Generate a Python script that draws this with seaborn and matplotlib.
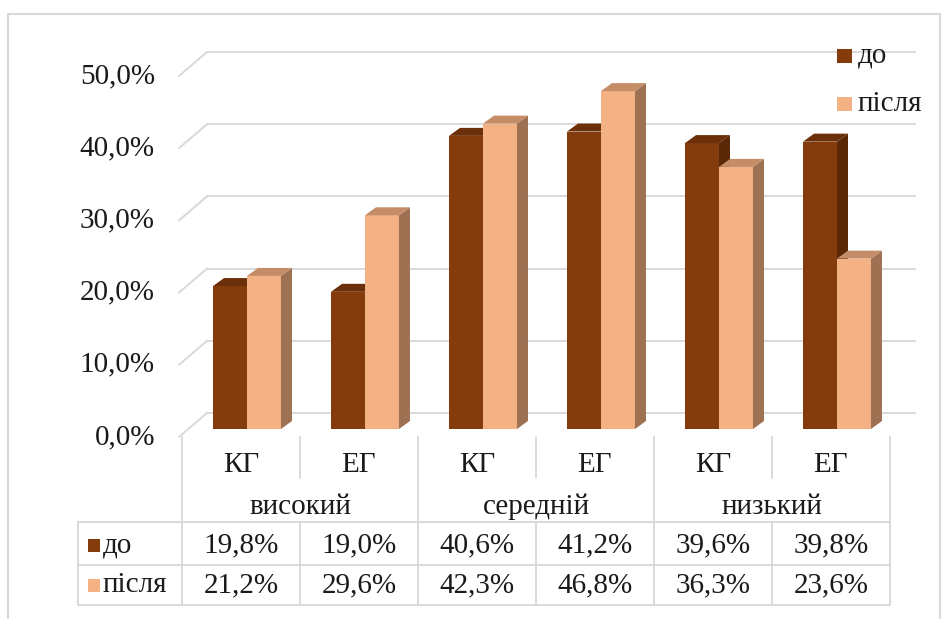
import pandas as pd
import matplotlib
matplotlib.use('Agg')
import matplotlib.pyplot as plt
import matplotlib.transforms as mtransforms
from matplotlib.patches import Polygon, Rectangle
import seaborn as sns

# Data
groups = ['високий', 'середній', 'низький']
subgroups = ['КГ', 'ЕГ']
series = ['до', 'після']
values_before = [19.8, 19.0, 40.6, 41.2, 39.6, 39.8]
values_after = [21.2, 29.6, 42.3, 46.8, 36.3, 23.6]
y_ticks = [0, 10, 20, 30, 40, 50]

colors_front = {'до': '#843C0C', 'після': '#F4B183'}
colors_top = {'до': '#6B300A', 'після': '#C48D68'}
colors_side = {'до': '#5A2806', 'після': '#9E7152'}
grid_color = '#D9D9D9'

cats = [f'{g} {s}' for g in groups for s in subgroups]
df = pd.DataFrame({
    'cat': cats * 2,
    'period': ['до'] * len(cats) + ['після'] * len(cats),
    'value': values_before + values_after,
})


def fmt(v):
    return f'{v:.1f}%'.replace('.', ',')


sns.set_theme(style='white')
plt.rcParams['font.family'] = ['Liberation Serif', 'DejaVu Serif']
FS = 21

W, H = 950, 619
fig = plt.figure(figsize=(W / 100, H / 100), dpi=100)
ax = fig.add_axes([188 / W, 190 / H, 708 / W, 361 / H])

sns.barplot(data=df, x='cat', y='value', hue='period', order=cats, hue_order=series,
            palette=colors_front, width=0.576, saturation=1, legend=False,
            linewidth=0, ax=ax)
ax.set_xlim(-0.5, 5.5)
ax.set_ylim(0, 50)
ax.axis('off')

# pixel -> data scale
sx = 708 / 6
sy = 361 / 50
depth = (11 / sx, 8 / sy)
back = (19 / sx, 16 / sy)
front = (-9 / sx, -8 / sy)

# back wall gridlines + floor diagonals
for v in y_ticks:
    ax.plot([-0.5 + front[0], -0.5 + back[0]], [v + front[1], v + back[1]],
            color=grid_color, lw=1.4, zorder=0, clip_on=False)
    ax.plot([-0.5 + back[0], 5.5 + back[0]], [v + back[1]] * 2,
            color=grid_color, lw=1.4, zorder=0, clip_on=False)
    ax.text(-0.5 + front[0] - 24 / sx, v + front[1], fmt(v), ha='right', va='center',
            fontsize=FS, color='#1a1a1a')

# 3D faces for each bar
for z, (container, s) in enumerate(zip(ax.containers, series)):
    for p in container:
        p.set_zorder(2 + z)
        x, w, h = p.get_x(), p.get_width(), p.get_height()
        dx, dy = depth
        side = Polygon([(x + w, 0), (x + w, h), (x + w + dx, h + dy), (x + w + dx, dy)],
                       closed=True, facecolor=colors_side[s], edgecolor='none',
                       zorder=2 + z, clip_on=False)
        top = Polygon([(x, h), (x + w, h), (x + w + dx, h + dy), (x + dx, h + dy)],
                      closed=True, facecolor=colors_top[s], edgecolor='none',
                      zorder=2 + z, clip_on=False)
        ax.add_patch(side)
        ax.add_patch(top)

# data table below
tr = mtransforms.blended_transform_factory(ax.transData, fig.transFigure)


def fy(px):
    return 1 - px / H


col_left = (182 - 188) / sx - 0.5
col_right = col_left + 6
table_left = (78 - 188) / sx - 0.5
y_top, y_cat, y_rows = 437, 478, [522, 565, 605]


def vline(x, y0, y1):
    fig.add_artist(plt.Line2D([x, x], [fy(y0), fy(y1)], transform=tr,
                              color=grid_color, lw=1.4))


def hline(x0, x1, y):
    fig.add_artist(plt.Line2D([x0, x1], [fy(y), fy(y)], transform=tr,
                              color=grid_color, lw=1.4))


for k in range(0, 7, 2):
    vline(col_left + k, y_top, y_rows[-1])
for k in range(1, 6, 2):
    vline(col_left + k, y_top, y_cat)
    vline(col_left + k, y_rows[0], y_rows[-1])
for y in y_rows:
    hline(table_left, col_right, y)
vline(table_left, y_rows[0], y_rows[-1])

for i, c in enumerate(cats):
    fig.text(col_left + i + 0.5, fy(465), c.split(' ')[1], transform=tr,
             ha='center', va='center', fontsize=FS, color='#1a1a1a')
for g, name in enumerate(groups):
    fig.text(col_left + 2 * g + 1, fy(507), name, transform=tr,
             ha='center', va='center', fontsize=FS, color='#1a1a1a')

row_y = [545, 585]
for s, vals, yy in zip(series, [values_before, values_after], row_y):
    for i, v in enumerate(vals):
        fig.text(col_left + i + 0.5, fy(yy), fmt(v), transform=tr,
                 ha='center', va='center', fontsize=FS, color='#1a1a1a')
    fig.add_artist(Rectangle((88 / W, fy(yy + 6.5)), 12 / W, 13 / H,
                             transform=fig.transFigure, facecolor=colors_front[s],
                             edgecolor='none'))
    fig.text(103 / W, fy(yy), s, ha='left', va='center', fontsize=FS, color='#1a1a1a')

# legend top right
for s, yy in zip(series, [56, 104]):
    fig.add_artist(Rectangle((837 / W, fy(yy + 7)), 15 / W, 14 / H,
                             transform=fig.transFigure, facecolor=colors_front[s],
                             edgecolor='none'))
    fig.text(858 / W, fy(yy), s, ha='left', va='center', fontsize=FS, color='#1a1a1a')

# outer chart frame
fig.add_artist(Rectangle((8 / W, -0.05), (940 - 8) / W, 1.05 - 14 / H,
                         transform=fig.transFigure, fill=False,
                         edgecolor=grid_color, lw=1.5))

fig.savefig('out.png', dpi=100)
